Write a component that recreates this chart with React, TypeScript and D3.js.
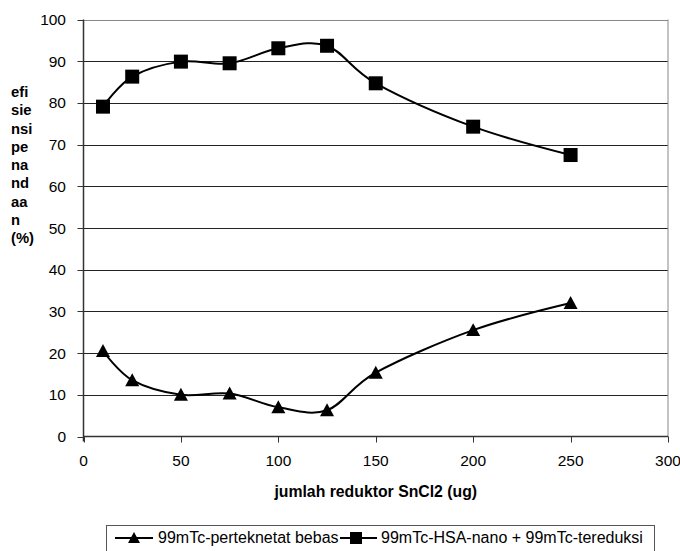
import * as d3 from 'd3';

const doses = [10, 25, 50, 75, 100, 125, 150, 200, 250];
const freeTc = [20.5, 13.5, 10, 10.3, 7, 6.3, 15.3, 25.5, 32];
const labeledTc = [79.1, 86.3, 89.9, 89.5, 93.1, 93.7, 84.7, 74.3, 67.5];
const xTicks = [0, 50, 100, 150, 200, 250, 300];
const yTicks = [0, 10, 20, 30, 40, 50, 60, 70, 80, 90, 100];
const yLabelLines = ['efi', 'sie', 'nsi', 'pe', 'na', 'nd', 'aa', 'n', '(%)'];
const seriesNames = ['99mTc-perteknetat bebas', '99mTc-HSA-nano + 99mTc-tereduksi'];

const width = 680;
const height = 551;
const font = "'Liberation Sans', Arial, sans-serif";

function Triangle({ x, y, s = 14 }: { x: number; y: number; s?: number }) {
  const h = s * 0.85;
  return <path d={`M${x},${y - h / 2 - 1}L${x + s / 2},${y + h / 2}L${x - s / 2},${y + h / 2}Z`} fill="#000" />;
}

function Square({ x, y, s = 14 }: { x: number; y: number; s?: number }) {
  return <rect x={x - s / 2} y={y - s / 2} width={s} height={s} fill="#000" />;
}

export default function App() {
  const x = d3.scaleLinear().domain([0, 300]).range([83.5, 668]);
  const y = d3.scaleLinear().domain([0, 100]).range([436.5, 19.5]);

  const line = d3
    .line<[number, number]>()
    .curve(d3.curveCardinal.tension(0))
    .x((d) => x(d[0]))
    .y((d) => y(d[1]));

  const freePts = doses.map((d, i) => [d, freeTc[i]] as [number, number]);
  const labPts = doses.map((d, i) => [d, labeledTc[i]] as [number, number]);

  // legend layout, text widths measured at 16px
  const legY = 538;

  return (
    <svg
      width={width}
      height={height}
      style={{ position: 'absolute', left: 0, top: 0, background: '#fff' }}
      fontFamily={font}
    >
      {/* grid */}
      {yTicks.slice(1).map((t) => (
        <line
          key={t}
          x1={x(0)}
          x2={x(300)}
          y1={Math.round(y(t)) + 0.5}
          y2={Math.round(y(t)) + 0.5}
          stroke={t === 100 ? '#888' : '#222'}
          strokeWidth={1}
        />
      ))}
      <line x1={x(300)} x2={x(300)} y1={y(100)} y2={y(0)} stroke="#888" />

      {/* y axis */}
      <line x1={x(0)} x2={x(0)} y1={y(100)} y2={y(0) + 5} stroke="#333" strokeWidth={1.5} />
      {yTicks.map((t) => (
        <g key={t}>
          <line x1={x(0) - 6} x2={x(0)} y1={Math.round(y(t)) + 0.5} y2={Math.round(y(t)) + 0.5} stroke="#333" />
          <text x={66} y={y(t) + 5.5} textAnchor="end" fontSize={15.5}>
            {t}
          </text>
        </g>
      ))}

      {/* x axis */}
      <line x1={x(0)} x2={x(300)} y1={y(0)} y2={y(0)} stroke="#333" strokeWidth={1.5} />
      {xTicks.map((t) => (
        <g key={t}>
          <line x1={Math.round(x(t)) + 0.5} x2={Math.round(x(t)) + 0.5} y1={y(0)} y2={y(0) + 6} stroke="#333" />
          <text x={x(t)} y={466} textAnchor="middle" fontSize={15.5}>
            {t}
          </text>
        </g>
      ))}

      {/* axis labels */}
      <text x={x(150)} y={497} textAnchor="middle" fontSize={15.8} fontWeight="bold">
        jumlah reduktor SnCl2 (ug)
      </text>
      {yLabelLines.map((s, i) => (
        <text key={i} x={11} y={97 + i * 18.25} fontSize={14.8} fontWeight="bold">
          {s}
        </text>
      ))}

      {/* series */}
      <path d={line(freePts) ?? ''} fill="none" stroke="#000" strokeWidth={2} />
      <path d={line(labPts) ?? ''} fill="none" stroke="#000" strokeWidth={2} />
      {freePts.map((p, i) => (
        <Triangle key={i} x={x(p[0])} y={y(p[1])} />
      ))}
      {labPts.map((p, i) => (
        <Square key={i} x={x(p[0])} y={y(p[1])} />
      ))}

      {/* legend */}
      <rect x={106.5} y={525.5} width={548} height={40} fill="#fff" stroke="#555" />
      <line x1={115} x2={153} y1={legY} y2={legY} stroke="#000" strokeWidth={2} />
      <Triangle x={134} y={legY} s={12} />
      <text x={158} y={543} fontSize={16}>
        {seriesNames[0]}
      </text>
      <line x1={340} x2={377} y1={legY} y2={legY} stroke="#000" strokeWidth={2} />
      <Square x={356} y={legY} s={12} />
      <text x={381} y={543} fontSize={16}>
        {seriesNames[1]}
      </text>
    </svg>
  );
}
